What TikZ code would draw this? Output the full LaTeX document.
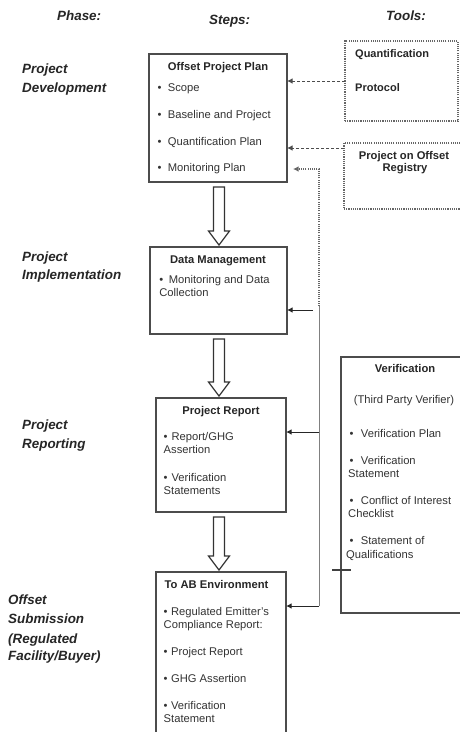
\documentclass[tikz,border=0pt]{standalone}
\usepackage{fontspec}
\setmainfont{Liberation Sans}
\usetikzlibrary{calc,arrows.meta}
\newcommand\hollowarr[3]{%
 \draw[hollow] ($(#3,0 |- #1.south)+(-5.5,5)$) -- ($(#3,0 |- #2.north)+(-5.5,-16)$) -- ($(#3,0 |- #2.north)+(-10.5,-16)$) -- ($(#3,0 |- #2.north)+(0,-2)$) -- ($(#3,0 |- #2.north)+(10.5,-16)$) -- ($(#3,0 |- #2.north)+(5.5,-16)$) -- ($(#3,0 |- #1.south)+(5.5,5)$) -- cycle;}
\begin{document}
\begin{tikzpicture}[x=1pt,y=-1pt,
 box/.style={draw=black!70, line width=1.1pt, inner sep=0pt, outer sep=0pt, anchor=north west},
 dotbox/.style={draw=black!60, line width=1.1pt, dash pattern=on 1.1pt off 1.1pt, inner sep=0pt, outer sep=0pt, anchor=north west},
 txt/.style={inner sep=0pt, anchor=base west, font=\fontsize{11.2}{13}\selectfont, text=black!80},
 ttl/.style={inner sep=0pt, anchor=base, font=\fontsize{11.2}{13}\selectfont\bfseries, text=black!85},
 hdr/.style={inner sep=0pt, anchor=base west, font=\fontsize{13.4}{15}\selectfont\bfseries\itshape, text=black!85},
 conn/.style={draw=black!50, line width=1pt},
 arr/.style={draw=black!85, line width=1pt, -{Latex[length=5.5pt,width=5.5pt]}},
 dasharr/.style={draw=black!70, line width=1pt, dash pattern=on 3pt off 2pt, -{Latex[length=5.5pt,width=5.5pt]}},
 dotarr/.style={draw=black!60, line width=1.1pt, dash pattern=on 1.1pt off 1.1pt, -{Latex[length=5.5pt,width=5.5pt]}},
 hollow/.style={draw=black!80, line width=1.2pt, fill=white, line join=miter}
]
\useasboundingbox (0,0) rectangle (460,732);
\clip (0,0) rectangle (460,732);
\fill[white] (0,0) rectangle (460,732);

% headers
\node[hdr] (hphase) at (57,20) {Phase:};
\node[hdr] (hsteps) at (209,24) {Steps:};
\node[hdr] (htools) at (386,20) {Tools:};

% phase labels
\node[hdr] (p1a) at (22,73) {Project};
\node[hdr] (p1b) at (22,92) {Development};
\node[hdr] (p2a) at (22,261) {Project};
\node[hdr] (p2b) at (22,279) {Implementation};
\node[hdr] (p3a) at (22,429) {Project};
\node[hdr] (p3b) at (22,448) {Reporting};
\node[hdr] (p4a) at (8,604) {Offset};
\node[hdr] (p4b) at (8,623) {Submission};
\node[hdr] (p4c) at (8,643) {(Regulated};
\node[hdr] (p4d) at (8,660) {Facility/Buyer)};

% boxes
\node[box, minimum width=138pt, minimum height=128pt] (b1) at (149,54) {};
\node[box, minimum width=137pt, minimum height=87pt] (b2) at (150,247) {};
\node[box, minimum width=130pt, minimum height=114pt] (b3) at (156,398) {};
\node[box, minimum width=130pt, minimum height=200pt] (b4) at (156,572) {};
\node[box, minimum width=130pt, minimum height=256pt] (ver) at (341,357) {};
\node[dotbox, minimum width=113pt, minimum height=80pt] (qp) at (345,41) {};
\node[dotbox, minimum width=122pt, minimum height=66pt] (reg) at (344,143) {};

% box 1 text
\node[ttl] (b1t) at (218,70.5) {Offset Project Plan};
\node[txt] (b1i1) at (157.3,91) {\textbullet\hspace{6.5pt}Scope};
\node[txt] (b1i2) at (157.3,118) {\textbullet\hspace{6.5pt}Baseline and Project};
\node[txt] (b1i3) at (157.3,145) {\textbullet\hspace{6.5pt}Quantification Plan};
\node[txt] (b1i4) at (157.3,171.5) {\textbullet\hspace{6.5pt}Monitoring Plan};

% box 2 text
\node[ttl] (b2t) at (218,263) {Data Management};
\node[txt] (b2i1) at (159.2,283) {\textbullet\hspace{5.5pt}Monitoring and Data};
\node[txt] (b2i2) at (159.2,296.5) {Collection};

% box 3 text
\node[ttl] (b3t) at (221,414) {Project Report};
\node[txt] (b3i1) at (163.5,440) {\textbullet\hspace{4pt}Report/GHG};
\node[txt] (b3i2) at (163.5,453.5) {Assertion};
\node[txt] (b3i3) at (163.5,481) {\textbullet\hspace{4pt}Verification};
\node[txt] (b3i4) at (163.5,494.5) {Statements};

% box 4 text
\node[txt, font=\fontsize{11.2}{13}\selectfont\bfseries, text=black!85] (b4t) at (164.5,588) {To AB Environment};
\node[txt] (b4i1) at (163.5,615) {\textbullet\hspace{3.5pt}Regulated Emitter's};
\node[txt] (b4i2) at (163.5,628.5) {Compliance Report:};
\node[txt] (b4i3) at (163.5,655) {\textbullet\hspace{3.5pt}Project Report};
\node[txt] (b4i4) at (163.5,682) {\textbullet\hspace{3.5pt}GHG Assertion};
\node[txt] (b4i5) at (163.5,709) {\textbullet\hspace{3.5pt}Verification};
\node[txt] (b4i6) at (163.5,722.5) {Statement};

% verification text
\node[ttl] (vt) at (405,372) {Verification};
\node[txt, anchor=base] (vt2) at (404,403) {(Third Party Verifier)};
\node[txt] (vi1) at (349.3,437) {\textbullet\hspace{7.5pt}Verification Plan};
\node[txt] (vi2) at (349.3,464) {\textbullet\hspace{7.5pt}Verification};
\node[txt] (vi2b) at (348,477.5) {Statement};
\node[txt] (vi3) at (349.3,504) {\textbullet\hspace{7.5pt}Conflict of Interest};
\node[txt] (vi3b) at (348,517.5) {Checklist};
\node[txt] (vi4) at (349.3,544) {\textbullet\hspace{7.5pt}Statement of};
\node[txt] (vi4b) at (346,558) {Qualifications};

% tools text
\node[txt, font=\fontsize{11}{13}\selectfont\bfseries, text=black!85] (qpt1) at (355,57.5) {Quantification};
\node[txt, font=\fontsize{11}{13}\selectfont\bfseries, text=black!85] (qpt2) at (355,91) {Protocol};
\node[ttl] (regt1) at (404,159) {Project on Offset};
\node[ttl] (regt2) at (405,171.5) {Registry};

% hollow arrows
\hollowarr{b1}{b2}{219}
\hollowarr{b2}{b3}{219}
\hollowarr{b3}{b4}{219}

% dashed arrows from tools
\draw[dasharr] (qp.west) -- (qp.west -| b1.east);
\coordinate (r1) at ([yshift=-5pt]reg.north west);
\draw[dasharr] (r1) -- (r1 -| b1.east);

% dotted / solid feedback line
\coordinate (v0) at (319,169);
\coordinate (v1) at (319,306);
\coordinate (v2) at (319,606);
\coordinate (b1a) at ([xshift=6pt]b1.east);
\draw[dotarr] (v1) -- (v0) -- (v0 -| b1a);
\draw[conn] (v1) -- (v2);
\draw[arr] (v2) -- (v2 -| b4.east);
\coordinate (h2) at (312.5,310);
\draw[arr] (h2) -- (h2 -| b2.east);
\coordinate (h3) at (319,432);
\draw[arr] (h3) -- (h3 -| b3.east);

% tick on verification box
\coordinate (tk) at (ver.west |- 0,570);
\draw[draw=black!75, line width=1.1pt] ([xshift=-9pt]tk) -- ([xshift=10pt]tk);
\end{tikzpicture}
\end{document}
